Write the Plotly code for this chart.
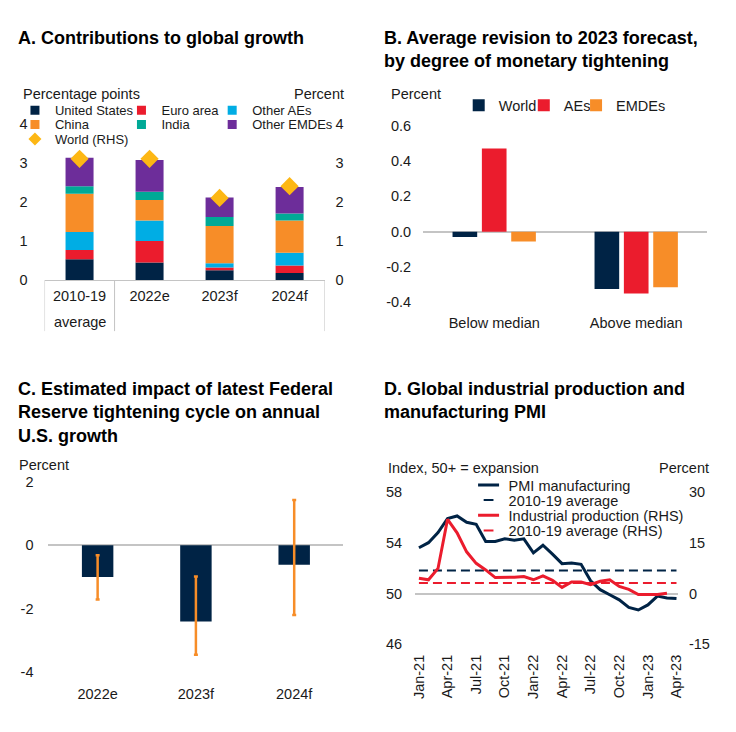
import plotly.graph_objects as go
import numpy as np

# page is drawn inside the default 8px body margin, so the figure is sized/offset for it
OFF = 8
W, H = 736 - 2 * OFF, 732 - 2 * OFF
FONT = "Liberation Sans, Arial, sans-serif"
NAVY = "#002345"
RED = "#EB1C2D"
LBLUE = "#00ADE4"
ORANGE = "#F78D28"
TEAL = "#00A996"
PURPLE = "#6D2D9A"
GOLD = "#FDB714"
GRAY = "#C4C4C4"
TXT = "#1a1a1a"

# ---------------- Data ----------------
# Panel A: contributions to global growth (percentage points)
a_categories = ["2010-19", "2022e", "2023f", "2024f"]
a_us = [0.53, 0.45, 0.25, 0.18]
a_euro = [0.24, 0.55, 0.07, 0.19]
a_other_aes = [0.46, 0.52, 0.11, 0.33]
a_china = [0.98, 0.53, 0.95, 0.82]
a_india = [0.19, 0.21, 0.23, 0.18]
a_other_emdes = [0.73, 0.81, 0.50, 0.68]
a_world = [3.1, 3.1, 2.1, 2.4]
a_ticks = [0, 1, 2, 3, 4]

# Panel B: average revision to 2023 forecast
b_groups = ["Below median", "Above median"]
b_world = [-0.03, -0.325]
b_aes = [0.47, -0.35]
b_emdes = [-0.055, -0.315]
b_tickvals = [-0.4, -0.2, 0.0, 0.2, 0.4, 0.6]
b_ticktext = ["-0.4", "-0.2", "0.0", "0.2", "0.4", "0.6"]

# Panel C: impact of Fed tightening on U.S. growth
c_categories = ["2022e", "2023f", "2024f"]
c_impact = [-1.0, -2.4, -0.61]
c_upper = [-0.31, -0.98, 1.43]
c_lower = [-1.71, -3.45, -2.20]
c_tickvals = [-4, -2, 0, 2]
c_ticktext = ["-4", "-2", "0", "2"]

# Panel D: global IP and manufacturing PMI
d_months = ["Jan-21", "Feb-21", "Mar-21", "Apr-21", "May-21", "Jun-21", "Jul-21",
            "Aug-21", "Sep-21", "Oct-21", "Nov-21", "Dec-21", "Jan-22", "Feb-22",
            "Mar-22", "Apr-22", "May-22", "Jun-22", "Jul-22", "Aug-22", "Sep-22",
            "Oct-22", "Nov-22", "Dec-22", "Jan-23", "Feb-23", "Mar-23", "Apr-23"]
d_pmi = [53.6, 54.0, 54.8, 55.9, 56.1, 55.6, 55.45, 54.1, 54.1, 54.3, 54.2, 54.3,
         53.2, 53.8, 53.1, 52.35, 52.4, 52.3, 51.0, 50.3, 49.9, 49.5, 48.9, 48.7,
         49.1, 49.8, 49.65, 49.6]
d_ip = [4.5, 4.05, 7.4, 21.9, 17.9, 12.3, 8.9, 6.95, 4.7, 4.7, 4.8, 5.0,
        4.05, 5.2, 3.9, 1.8, 3.4, 3.4, 2.6, 3.6, 4.05, 2.1, 1.2, -0.3,
        -0.3, -0.3, 0.1]
d_pmi_avg = 51.8
d_ip_avg = 3.1
d_left_ticks = [46, 50, 54, 58]
d_right_ticks = [-15, 0, 15, 30]
d_left_ticktext = ["46", "50", "54", "58"]
d_right_ticktext = ["-15", "0", "15", "30"]


# ---------------- Helpers (screen pixels -> paper fractions) ----------------
def px(p):
    return (p - OFF) / W


def py(p):
    return 1 - (p - OFF) / H


def xd(a, b):
    return [px(a), px(b)]


def yd(top, bottom):
    return [py(bottom), py(top)]


fig = go.Figure()

# ---------------- Panel A ----------------
a_series = [
    ("United States", a_us, NAVY),
    ("Euro area", a_euro, RED),
    ("Other AEs", a_other_aes, LBLUE),
    ("China", a_china, ORANGE),
    ("India", a_india, TEAL),
    ("Other EMDEs", a_other_emdes, PURPLE),
]
stack = np.vstack([s[1] for s in a_series])
bases = np.vstack([np.zeros(len(a_categories)), np.cumsum(stack, axis=0)[:-1]])
for i, (name, vals, col) in enumerate(a_series):
    fig.add_trace(go.Bar(x=a_categories, y=vals, base=bases[i], marker_color=col,
                         marker_line_width=0, width=0.4, offset=-0.2,
                         offsetgroup="A", showlegend=False, xaxis="x", yaxis="y"))
fig.add_trace(go.Scatter(x=a_categories, y=a_world, mode="markers",
                         marker=dict(symbol="diamond", size=14, color=GOLD),
                         showlegend=False, xaxis="x", yaxis="y2"))
# legend proxies, one legend per entry
a_leg_names = ["legend", "legend2", "legend3", "legend4", "legend5", "legend6"]
for (name, vals, col), lg in zip(a_series, a_leg_names):
    fig.add_trace(go.Scatter(x=[None], y=[None], mode="markers", name=name,
                             marker=dict(symbol="square", size=9, color=col),
                             legend=lg, xaxis="x", yaxis="y"))
fig.add_trace(go.Scatter(x=[None], y=[None], mode="markers", name="World (RHS)",
                         marker=dict(symbol="diamond", size=10, color=GOLD),
                         legend="legend7", xaxis="x", yaxis="y"))

# ---------------- Panel B ----------------
for name, vals, col, lg in [("World", b_world, NAVY, "legend8"), ("AEs", b_aes, RED, "legend9"),
                            ("EMDEs", b_emdes, ORANGE, "legend10")]:
    fig.add_trace(go.Bar(x=b_groups, y=vals, name=name, marker_color=col,
                         marker_line_width=0, offsetgroup=name, legend=lg,
                         xaxis="x2", yaxis="y3"))

# ---------------- Panel C ----------------
c_plus = [u - v for u, v in zip(c_upper, c_impact)]
c_minus = [v - l for v, l in zip(c_impact, c_lower)]
fig.add_trace(go.Bar(x=c_categories, y=c_impact, marker_color=NAVY, marker_line_width=0,
                     width=0.32, offset=-0.16, offsetgroup="C",
                     error_y=dict(type="data", symmetric=False, array=c_plus,
                                  arrayminus=c_minus, color=ORANGE, thickness=2.5, width=2),
                     showlegend=False, xaxis="x3", yaxis="y4"))

# ---------------- Panel D ----------------
fig.add_trace(go.Scatter(x=d_months, y=d_pmi, mode="lines", line=dict(color=NAVY, width=3),
                         showlegend=False, xaxis="x4", yaxis="y5"))
fig.add_trace(go.Scatter(x=d_months[:len(d_ip)], y=d_ip, mode="lines", line=dict(color=RED, width=3),
                         showlegend=False, xaxis="x4", yaxis="y6"))
fig.add_trace(go.Scatter(x=[d_months[0], d_months[-1]], y=[d_pmi_avg, d_pmi_avg], mode="lines",
                         line=dict(color=NAVY, width=2, dash="9px,5px"), showlegend=False,
                         xaxis="x4", yaxis="y5"))
fig.add_trace(go.Scatter(x=[d_months[0], d_months[-1]], y=[d_ip_avg, d_ip_avg], mode="lines",
                         line=dict(color=RED, width=2, dash="9px,5px"), showlegend=False,
                         xaxis="x4", yaxis="y6"))
d_legend = [("PMI manufacturing", NAVY, 15, 3, "legend11"),
            ("2010-19 average", NAVY, 7, 2, "legend12"),
            ("Industrial production (RHS)", RED, 15, 3, "legend13"),
            ("2010-19 average (RHS)", RED, 7, 2, "legend14")]
for name, col, sz, lw, lg in d_legend:
    fig.add_trace(go.Scatter(x=[None], y=[None], mode="markers", name=name,
                             marker=dict(symbol="line-ew", size=sz, color=col,
                                         line=dict(color=col, width=lw)),
                             legend=lg, xaxis="x4", yaxis="y5"))

# ---------------- Layout ----------------
tickfont = dict(family=FONT, size=14.5, color=TXT)
common_y = dict(showgrid=False, zeroline=False, showline=False, ticks="",
                tickfont=tickfont, fixedrange=True)
common_x = dict(showgrid=False, zeroline=False, ticks="", tickfont=tickfont, fixedrange=True)


def leg(x, y, size):
    return dict(x=px(x), y=py(y), xanchor="left", yanchor="middle", orientation="h",
                bgcolor="rgba(0,0,0,0)", borderwidth=0,
                font=dict(family=FONT, size=size, color=TXT))


layout = dict(
    width=W, height=H, margin=dict(l=0, r=0, t=0, b=0),
    paper_bgcolor="white", plot_bgcolor="rgba(0,0,0,0)",
    font=dict(family=FONT, color=TXT),
    barmode="group", bargap=0.38, bargroupgap=0.16,
    showlegend=True,
    # Panel A
    xaxis=dict(common_x, domain=xd(41, 325), anchor="y", range=[-0.5, 3.5],
               showline=True, linecolor=GRAY, linewidth=1, ticklabelstandoff=3),
    yaxis=dict(common_y, domain=yd(112.7, 280), anchor="x", range=[0, 4.2],
               tickvals=a_ticks, ticklabelstandoff=16),
    yaxis2=dict(common_y, overlaying="y", side="right", anchor="x", range=[0, 4.2],
                tickvals=a_ticks, ticklabelstandoff=10),
    # Panel B
    xaxis2=dict(common_x, domain=xd(425, 713), anchor="y3", range=[-0.5, 1.5],
                showline=False, ticklabelstandoff=1),
    yaxis3=dict(common_y, domain=yd(113.7, 311.7), anchor="x2", range=[-0.45, 0.65],
                tickvals=b_tickvals, ticktext=b_ticktext, zeroline=True,
                zerolinecolor=GRAY, zerolinewidth=1.5, ticklabelstandoff=11),
    # Panel C
    xaxis3=dict(common_x, domain=xd(45, 344), anchor="y4", range=[-0.5, 2.5],
                ticklabelstandoff=10),
    yaxis4=dict(common_y, domain=yd(479.2, 680.9), anchor="x3", range=[-4.05, 2.2],
                tickvals=c_tickvals, ticktext=c_ticktext, zeroline=True,
                zerolinecolor=GRAY, zerolinewidth=1.5, ticklabelstandoff=14),
    # Panel D
    xaxis4=dict(common_x, domain=xd(416.7, 683.3), anchor="y5", type="category",
                categoryorder="array", categoryarray=d_months,
                range=[-0.41, 27.15], tickvals=d_months[::3], ticktext=d_months[::3],
                tickangle=-90, ticklabelstandoff=4),
    yaxis5=dict(common_y, domain=yd(493.1, 653.6), anchor="x4", range=[45.8, 58.2],
                tickvals=d_left_ticks, ticktext=d_left_ticktext, ticklabelstandoff=12),
    yaxis6=dict(common_y, overlaying="y5", side="right", anchor="x4", range=[-15.75, 30.75],
                tickvals=d_right_ticks, ticktext=d_right_ticktext, zeroline=True,
                zerolinecolor=GRAY, zerolinewidth=1.5, ticklabelstandoff=10),
    # Legends: panel A (3 columns x 3 rows)
    legend=leg(11, 107, 13), legend2=leg(119, 107, 13), legend3=leg(211, 107, 13),
    legend4=leg(11, 121.5, 13), legend5=leg(119, 121.5, 13), legend6=leg(211, 121.5, 13),
    legend7=leg(11, 136.5, 13),
    # panel B
    legend8=leg(461, 102, 14.5), legend9=leg(527, 102, 14.5), legend10=leg(580, 102, 14.5),
    # panel D
    legend11=leg(471, 488.7, 14.5), legend12=leg(471, 504.2, 14.5),
    legend13=leg(471, 519.7, 14.5), legend14=leg(471, 535.2, 14.5),
)
fig.update_layout(**layout)

title_font = dict(family=FONT, size=18, color="#000000")
sub_font = dict(family=FONT, size=14.5, color=TXT)
ann = []


def add_text(text, x, y, font, xanchor="left", yanchor="middle"):
    ann.append(dict(text=text, x=px(x), y=py(y), xref="paper", yref="paper",
                    xanchor=xanchor, yanchor=yanchor, showarrow=False, font=font, align="left"))


add_text("<b>A. Contributions to global growth</b>", 12, 33, title_font)
add_text("<b>B. Average revision to 2023 forecast,<br>by degree of monetary tightening</b>", 383, 45, title_font)
add_text("<b>C. Estimated impact of latest Federal<br>Reserve tightening cycle on annual<br>U.S. growth</b>", 12, 415, title_font)
add_text("<b>D. Global industrial production and<br>manufacturing PMI</b>", 383, 403, title_font)
add_text("Percentage points", 17, 91, sub_font)
add_text("Percent", 347, 91, sub_font, xanchor="right")
add_text("Percent", 390, 90, sub_font)
add_text("Percent", 13, 468, sub_font)
add_text("Index, 50+ = expansion", 387, 471, sub_font)
add_text("Percent", 717, 471, sub_font, xanchor="right")
# second line of the first category label in panel A
ann.append(dict(text="average", x=a_categories[0], y=py(323), xref="x", yref="paper",
                xanchor="center", yanchor="middle", showarrow=False, font=tickfont))
fig.update_layout(annotations=ann)

# Panel A category dividers
shapes = []
for xv in [-0.5, 0.5, 3.5]:
    shapes.append(dict(type="line", xref="x", yref="paper", x0=xv, x1=xv,
                       y0=py(280), y1=py(332), line=dict(color=GRAY, width=1)))
fig.update_layout(shapes=shapes)

fig.write_html("out.html")
